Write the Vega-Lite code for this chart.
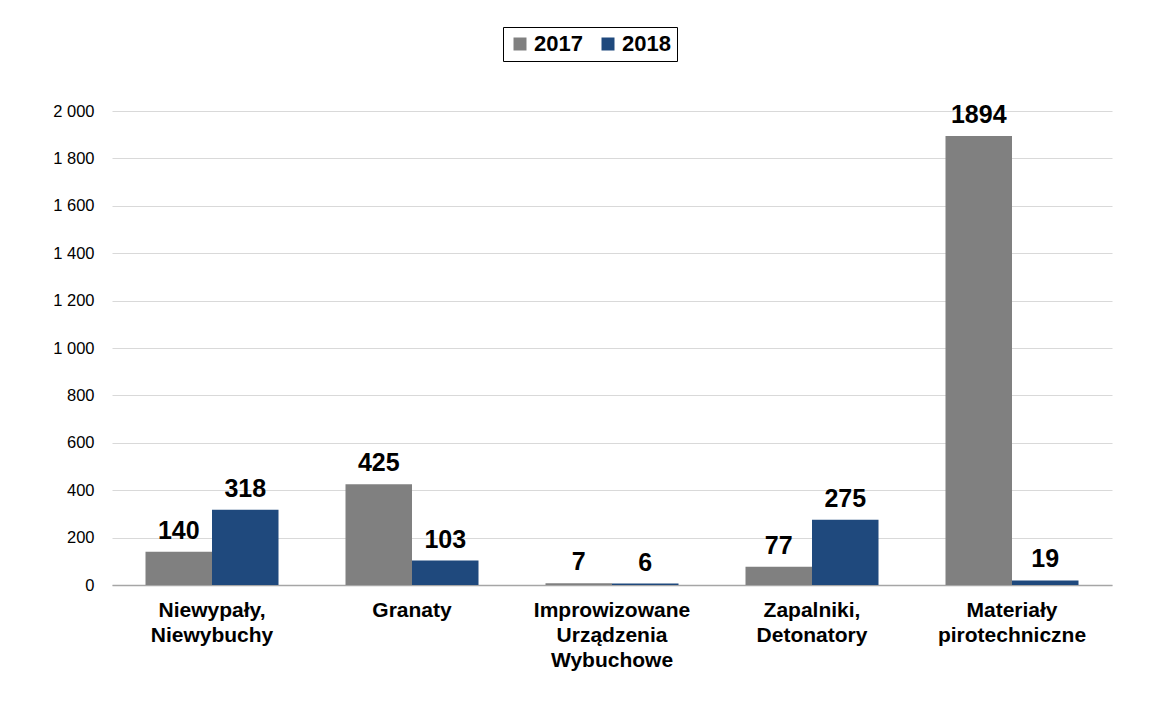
{
  "$schema": "https://vega.github.io/schema/vega-lite/v6.json",
  "width": 1000,
  "height": 474,
  "autosize": {"type": "none"},
  "padding": {"left": 112, "top": 111, "right": 52, "bottom": 116},
  "background": "white",
  "config": {
    "font": "Liberation Sans",
    "view": {"stroke": null}
  },
  "data": {
    "values": [
      {"kategoria": "Niewypały,\nNiewybuchy", "rok": "2017", "liczba": 140},
      {"kategoria": "Niewypały,\nNiewybuchy", "rok": "2018", "liczba": 318},
      {"kategoria": "Granaty", "rok": "2017", "liczba": 425},
      {"kategoria": "Granaty", "rok": "2018", "liczba": 103},
      {"kategoria": "Improwizowane\nUrządzenia\nWybuchowe", "rok": "2017", "liczba": 7},
      {"kategoria": "Improwizowane\nUrządzenia\nWybuchowe", "rok": "2018", "liczba": 6},
      {"kategoria": "Zapalniki,\nDetonatory", "rok": "2017", "liczba": 77},
      {"kategoria": "Zapalniki,\nDetonatory", "rok": "2018", "liczba": 275},
      {"kategoria": "Materiały\npirotechniczne", "rok": "2017", "liczba": 1894},
      {"kategoria": "Materiały\npirotechniczne", "rok": "2018", "liczba": 19}
    ]
  },
  "encoding": {
    "x": {
      "field": "kategoria",
      "type": "nominal",
      "sort": null,
      "scale": {"paddingInner": 0.335, "paddingOuter": 0.1675},
      "axis": {
        "title": null,
        "labelAngle": 0,
        "labelExpr": "split(datum.label, '\\n')",
        "labelFont": "Liberation Sans",
        "labelFontSize": 21,
        "labelFontWeight": "bold",
        "labelColor": "#000000",
        "labelLineHeight": 25,
        "labelPadding": 14,
        "labelBaseline": "top",
        "ticks": false,
        "domainColor": "#a6a6a6",
        "domainWidth": 1.5,
        "grid": false
      }
    },
    "xOffset": {"field": "rok", "type": "nominal", "scale": {"paddingInner": 0, "paddingOuter": 0}},
    "y": {
      "field": "liczba",
      "type": "quantitative",
      "scale": {"domain": [0, 2000], "nice": false},
      "axis": {
        "title": null,
        "values": [0, 200, 400, 600, 800, 1000, 1200, 1400, 1600, 1800, 2000],
        "labelExpr": "replace(format(datum.value, ',d'), ',', ' ')",
        "labelFont": "Liberation Sans",
        "labelFontSize": 16.5,
        "labelColor": "#000000",
        "labelPadding": 18,
        "ticks": false,
        "domain": false,
        "gridColor": "#d9d9d9",
        "gridWidth": 1
      }
    }
  },
  "layer": [
    {
      "mark": {"type": "bar"},
      "encoding": {
        "color": {
          "field": "rok",
          "type": "nominal",
          "scale": {"domain": ["2017", "2018"], "range": ["#808080", "#1f497d"]},
          "legend": {
            "orient": "none",
            "legendX": 391,
            "legendY": -84,
            "direction": "horizontal",
            "title": null,
            "symbolType": "square",
            "symbolSize": 169,
            "symbolStrokeWidth": 0,
            "labelFont": "Liberation Sans",
            "labelFontSize": 22,
            "labelFontWeight": "bold",
            "labelColor": "#000000",
            "labelOffset": 3,
            "columnPadding": 14,
            "padding": 6,
            "strokeColor": "#000000",
            "fillColor": "white",
            "cornerRadius": 0
          }
        }
      }
    },
    {
      "mark": {"type": "text", "baseline": "alphabetic", "dy": -13, "font": "Liberation Sans", "fontSize": 25, "fontWeight": "bold", "color": "#000000"},
      "encoding": {
        "text": {"field": "liczba", "type": "quantitative"}
      }
    }
  ]
}
